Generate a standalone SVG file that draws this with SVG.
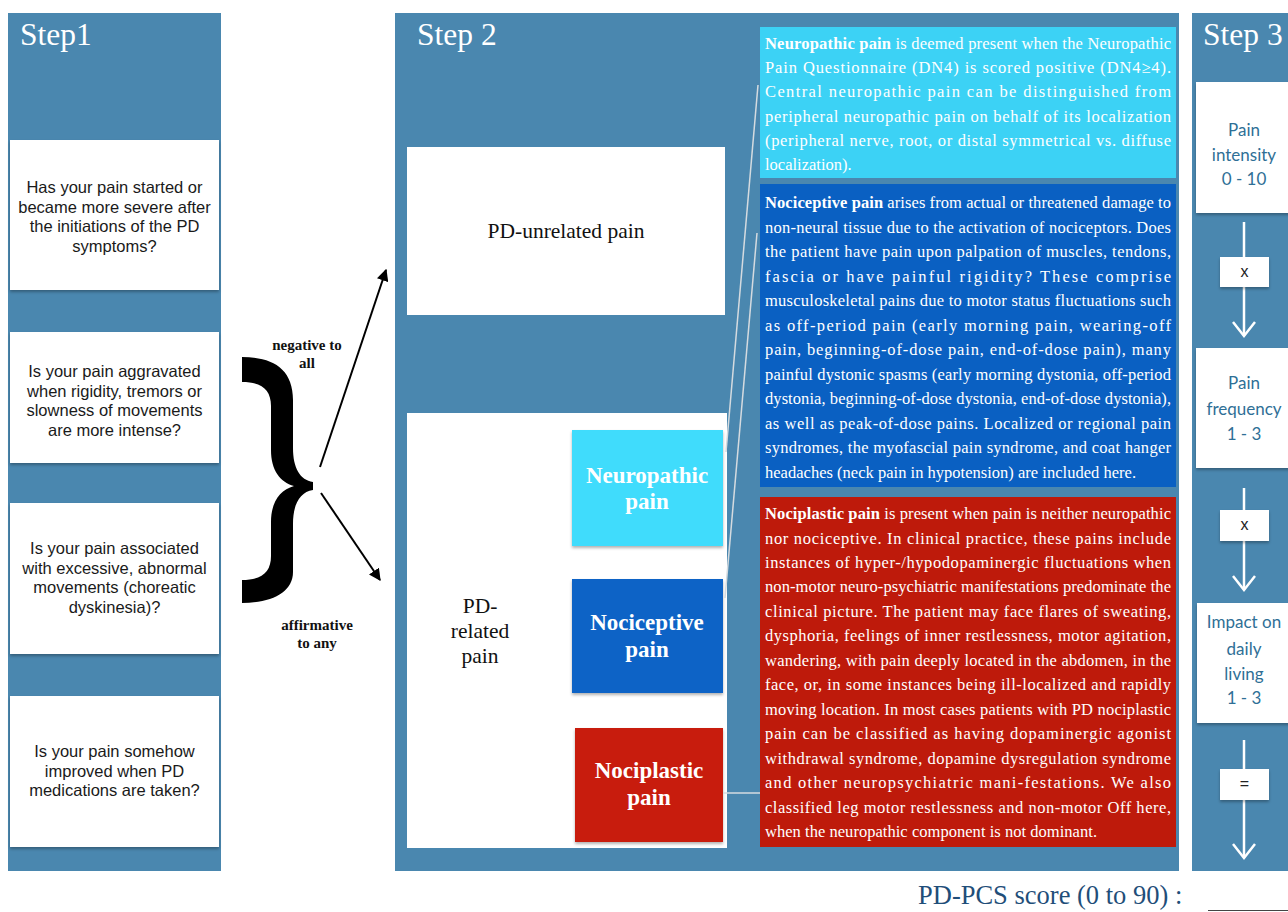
<svg xmlns="http://www.w3.org/2000/svg" width="1288" height="912" viewBox="0 0 1288 912">
<style>
.panel{fill:#4a87af}
.wbox{fill:#fff;filter:url(#sh)}
.q{font-family:"Liberation Sans",Arial,sans-serif;font-size:16.5px;fill:#1a1a1a;text-anchor:middle}
.title{font-family:"Liberation Serif","Times New Roman",serif;font-size:31.5px;fill:#fff}
.para{font-family:"Liberation Serif","Times New Roman",serif;font-size:16.5px;fill:#fff}
.serif{font-family:"Liberation Serif","Times New Roman",serif;fill:#111;text-anchor:middle}
.cb{font-family:"Liberation Serif","Times New Roman",serif;font-size:23px;font-weight:bold;fill:#fff;text-anchor:middle}
.lbl{font-family:"Liberation Serif","Times New Roman",serif;font-size:15px;font-weight:bold;fill:#111;text-anchor:middle}
.s3{font-family:Lato,"Open Sans",sans-serif;font-size:17px;fill:#2f6f96;text-anchor:middle}
.op{font-family:"Liberation Sans",Arial,sans-serif;font-size:16px;fill:#222;text-anchor:middle}
.call{stroke:#d5dbe0;stroke-width:1.5;fill:none}
.arr{stroke:#000;stroke-width:2;fill:none;marker-end:url(#ah)}
.wl{stroke:#fff;stroke-width:2.5;fill:none}
</style>
<defs>
<filter id="sh" x="-10%" y="-10%" width="120%" height="130%">
<feDropShadow dx="0" dy="2" stdDeviation="1.5" flood-color="#000" flood-opacity="0.3"/>
</filter>
<marker id="ah" viewBox="0 0 10 10" refX="9" refY="5" markerWidth="6" markerHeight="6" orient="auto-start-reverse">
<path d="M0,0 L10,5 L0,10 Z" fill="#000"/>
</marker>
</defs>
<rect width="1288" height="912" fill="#fff"/>

<!-- Step 1 -->
<g id="step1">
<rect class="panel" x="8" y="13" width="213" height="858"/>
<text class="title" x="20" y="45">Step1</text>
</g>
<g id="q1">
<rect class="wbox" x="10" y="140" width="209" height="150"/>
<text class="q"><tspan x="114.5" y="193">Has your pain started or</tspan><tspan x="114.5" y="212.5">became more severe after</tspan><tspan x="114.5" y="232">the initiations of the PD</tspan><tspan x="114.5" y="251.5">symptoms?</tspan></text>
</g>
<g id="q2">
<rect class="wbox" x="10" y="332" width="209" height="131"/>
<text class="q"><tspan x="114.5" y="377">Is your pain aggravated</tspan><tspan x="114.5" y="396.5">when rigidity, tremors or</tspan><tspan x="114.5" y="416">slowness of movements</tspan><tspan x="114.5" y="435.5">are more intense?</tspan></text>
</g>
<g id="q3">
<rect class="wbox" x="10" y="503" width="209" height="151"/>
<text class="q"><tspan x="114.5" y="554">Is your pain associated</tspan><tspan x="114.5" y="573.5">with excessive, abnormal</tspan><tspan x="114.5" y="593">movements (choreatic</tspan><tspan x="114.5" y="612.5">dyskinesia)?</tspan></text>
</g>
<g id="q4">
<rect class="wbox" x="10" y="696" width="209" height="151"/>
<text class="q"><tspan x="114.5" y="757">Is your pain somehow</tspan><tspan x="114.5" y="776.5">improved when PD</tspan><tspan x="114.5" y="796">medications are taken?</tspan></text>
</g>

<!-- brace -->
<g id="brace">
<path d="M242,357 C272,357 293,368 293,400 L293,448 C293,468 300,480 313,482 L313,490 C300,492 293,504 293,524 L293,572 C293,592 272,603 242,603 L242,580 C262,580 271,572 271,556 L271,522 C271,502 280,490 294,486 C280,482 271,470 271,450 L271,406 C271,390 262,382 242,382 Z" fill="#000"/>
<text class="lbl"><tspan x="307" y="350">negative to</tspan><tspan x="307" y="368">all</tspan></text>
<text class="lbl"><tspan x="317" y="630">affirmative</tspan><tspan x="317" y="648">to any</tspan></text>
</g>

<!-- Step 2 -->
<g id="step2">
<rect class="panel" x="395" y="13" width="784" height="858"/>
<text class="title" x="417" y="45">Step 2</text>
</g>
<g id="unrelated">
<rect x="407" y="147" width="318" height="168" fill="#fff"/>
<text class="serif" x="566" y="238" font-size="21.5">PD-unrelated pain</text>
</g>
<g id="related">
<rect x="407" y="413" width="320" height="435" fill="#fff"/>
<text class="serif" font-size="21.5"><tspan x="480" y="613">PD-</tspan><tspan x="480" y="638">related</tspan><tspan x="480" y="663">pain</tspan></text>
</g>
<g id="neuro">
<rect x="572" y="430" width="151" height="116" fill="#3fdcfc" filter="url(#sh)"/>
<text class="cb"><tspan x="647" y="483">Neuropathic</tspan><tspan x="647" y="509">pain</tspan></text>
</g>
<g id="noci">
<rect x="572" y="579" width="151" height="114" fill="#0963c6" filter="url(#sh)"/>
<text class="cb"><tspan x="647" y="630">Nociceptive</tspan><tspan x="647" y="657">pain</tspan></text>
</g>
<g id="nocipl">
<rect x="575" y="728" width="148" height="114" fill="#c81c0a" filter="url(#sh)"/>
<text class="cb"><tspan x="649" y="778">Nociplastic</tspan><tspan x="649" y="805">pain</tspan></text>
</g>

<!-- descriptions -->
<g id="neuro-text">
<rect x="760" y="27" width="416" height="151" fill="#3cd2f5"/>
<text class="para" x="765" y="49" textLength="406" lengthAdjust="spacing"><tspan font-weight="bold">Neuropathic pain</tspan> is deemed present when the Neuropathic</text>
<text class="para" x="765" y="73.2" textLength="406" lengthAdjust="spacing">Pain Questionnaire (DN4) is scored positive (DN4≥4).</text>
<text class="para" x="765" y="97.4" textLength="406" lengthAdjust="spacing">Central neuropathic pain can be distinguished from</text>
<text class="para" x="765" y="121.6" textLength="406" lengthAdjust="spacing">peripheral neuropathic pain on behalf of its localization</text>
<text class="para" x="765" y="145.8" textLength="406" lengthAdjust="spacing">(peripheral nerve, root, or distal symmetrical vs. diffuse</text>
<text class="para" x="765" y="170">localization).</text>
</g>
<g id="noci-text">
<rect x="760" y="184" width="416" height="303" fill="#0a60c2"/>
<text class="para" x="765" y="208" textLength="406" lengthAdjust="spacing"><tspan font-weight="bold">Nociceptive pain</tspan> arises from actual or threatened damage to</text>
<text class="para" x="765" y="232.5" textLength="406" lengthAdjust="spacing">non-neural tissue due to the activation of nociceptors. Does</text>
<text class="para" x="765" y="257" textLength="406" lengthAdjust="spacing">the patient have pain upon palpation of muscles, tendons,</text>
<text class="para" x="765" y="281.5" textLength="406" lengthAdjust="spacing">fascia or have painful rigidity? These comprise</text>
<text class="para" x="765" y="306" textLength="406" lengthAdjust="spacing">musculoskeletal pains due to motor status fluctuations such</text>
<text class="para" x="765" y="330.5" textLength="406" lengthAdjust="spacing">as off-period pain (early morning pain, wearing-off</text>
<text class="para" x="765" y="355" textLength="406" lengthAdjust="spacing">pain, beginning-of-dose pain, end-of-dose pain), many</text>
<text class="para" x="765" y="379.5" textLength="406" lengthAdjust="spacing">painful dystonic spasms (early morning dystonia, off-period</text>
<text class="para" x="765" y="404" textLength="406" lengthAdjust="spacing">dystonia, beginning-of-dose dystonia, end-of-dose dystonia),</text>
<text class="para" x="765" y="428.5" textLength="406" lengthAdjust="spacing">as well as peak-of-dose pains. Localized or regional pain</text>
<text class="para" x="765" y="453" textLength="406" lengthAdjust="spacing">syndromes, the myofascial pain syndrome, and coat hanger</text>
<text class="para" x="765" y="477.5" textLength="371" lengthAdjust="spacing">headaches (neck pain in hypotension) are included here.</text>
</g>
<g id="nocipl-text">
<rect x="760" y="497" width="416" height="350" fill="#be1a0b"/>
<text class="para" x="765" y="519" textLength="406" lengthAdjust="spacing"><tspan font-weight="bold">Nociplastic pain</tspan> is present when pain is neither neuropathic</text>
<text class="para" x="765" y="543.5" textLength="406" lengthAdjust="spacing">nor nociceptive. In clinical practice, these pains include</text>
<text class="para" x="765" y="568" textLength="406" lengthAdjust="spacing">instances of hyper-/hypodopaminergic fluctuations when</text>
<text class="para" x="765" y="592.4" textLength="406" lengthAdjust="spacing">non-motor neuro-psychiatric manifestations predominate the</text>
<text class="para" x="765" y="616.8" textLength="406" lengthAdjust="spacing">clinical picture. The patient may face flares of sweating,</text>
<text class="para" x="765" y="641.3" textLength="406" lengthAdjust="spacing">dysphoria, feelings of inner restlessness, motor agitation,</text>
<text class="para" x="765" y="665.8" textLength="406" lengthAdjust="spacing">wandering, with pain deeply located in the abdomen, in the</text>
<text class="para" x="765" y="690.2" textLength="406" lengthAdjust="spacing">face, or, in some instances being ill-localized and rapidly</text>
<text class="para" x="765" y="714.7" textLength="406" lengthAdjust="spacing">moving location. In most cases patients with PD nociplastic</text>
<text class="para" x="765" y="739.1" textLength="406" lengthAdjust="spacing">pain can be classified as having dopaminergic agonist</text>
<text class="para" x="765" y="763.6" textLength="406" lengthAdjust="spacing">withdrawal syndrome, dopamine dysregulation syndrome</text>
<text class="para" x="765" y="788.1" textLength="406" lengthAdjust="spacing">and other neuropsychiatric mani-festations. We also</text>
<text class="para" x="765" y="812.5" textLength="406" lengthAdjust="spacing">classified leg motor restlessness and non-motor Off here,</text>
<text class="para" x="765" y="837" textLength="332" lengthAdjust="spacing">when the neuropathic component is not dominant.</text>
</g>

<!-- Step 3 -->
<g id="step3">
<rect class="panel" x="1192" y="13" width="100" height="858"/>
<text class="title" x="1203" y="45" font-size="30.5">Step 3</text>
</g>
<g id="intensity">
<rect class="wbox" x="1196" y="82" width="96" height="131"/>
<text class="s3"><tspan x="1244" y="136">Pain</tspan><tspan x="1244" y="161">intensity</tspan><tspan x="1244" y="185">0 - 10</tspan></text>
</g>
<g id="frequency">
<rect class="wbox" x="1196" y="348" width="96" height="120"/>
<text class="s3"><tspan x="1244" y="389">Pain</tspan><tspan x="1244" y="415">frequency</tspan><tspan x="1244" y="440">1 - 3</tspan></text>
</g>
<g id="impact">
<rect class="wbox" x="1197" y="603" width="95" height="120"/>
<text class="s3"><tspan x="1244" y="628">Impact on</tspan><tspan x="1244" y="655">daily</tspan><tspan x="1244" y="680">living</tspan><tspan x="1244" y="704">1 - 3</tspan></text>
</g>

<!-- connectors -->
<g id="connectors">
<line class="arr" x1="320" y1="467" x2="386" y2="270"/>
<line class="arr" x1="321" y1="493" x2="380" y2="580"/>
<line class="call" x1="758" y1="85" x2="726" y2="452"/>
<line class="call" x1="757" y1="233" x2="725" y2="598"/>
<line class="call" x1="723" y1="793" x2="760" y2="793"/>
<line class="wl" x1="1244" y1="222" x2="1244" y2="336"/>
<polyline class="wl" points="1233,322 1244,336 1255,322"/>
<line class="wl" x1="1244" y1="488" x2="1244" y2="590"/>
<polyline class="wl" points="1233,576 1244,590 1255,576"/>
<line class="wl" x1="1244" y1="740" x2="1244" y2="858"/>
<polyline class="wl" points="1233,844 1244,858 1255,844"/>
</g>
<g id="op1">
<rect class="wbox" x="1220" y="257" width="49" height="30"/>
<text class="op" x="1244.5" y="277">x</text>
</g>
<g id="op2">
<rect class="wbox" x="1220" y="510" width="49" height="31"/>
<text class="op" x="1244.5" y="530">x</text>
</g>
<g id="op3">
<rect class="wbox" x="1220" y="769" width="49" height="31"/>
<text class="op" x="1244.5" y="789" fill="#666">=</text>
</g>

<g id="score">
<text x="918" y="904" font-family="Liberation Serif,'Times New Roman',serif" font-size="26.5" fill="#1f4e79">PD-PCS score (0 to 90) :</text>
<line x1="1208" y1="910.5" x2="1288" y2="910.5" stroke="#444" stroke-width="1"/>
</g>
</svg>
